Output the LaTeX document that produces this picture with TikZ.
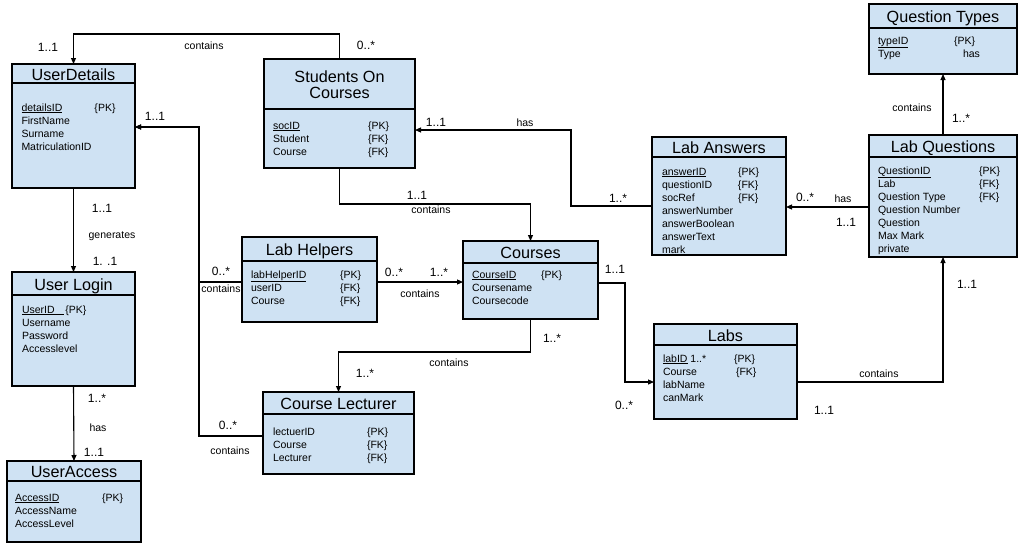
\documentclass[tikz,border=0pt]{standalone}
\usepackage{fontspec}
\setmainfont{Liberation Sans}
\usepackage{tikz}
\usetikzlibrary{arrows.meta,positioning}
\definecolor{erblue}{HTML}{CFE2F3}

\begin{document}
\begin{tikzpicture}[
  x=1pt, y=-1pt,
  etitle/.style={draw, fill=erblue, line width=1.1pt, inner sep=0.5pt, outer sep=0pt, anchor=north west,
    font=\fontsize{16.2}{16}\selectfont, align=center, text height=14.5pt, text depth=1.3pt},
  ebody/.style={draw, fill=erblue, line width=1.1pt, inner sep=0pt, outer sep=0pt, below=0pt of #1},
  attrs/.style={inner sep=0pt, outer sep=0pt, font=\fontsize{10.5}{13}\selectfont},
  rel/.style={-{Triangle[length=6pt, width=5pt]}, line width=1.1pt},
  mult/.style={font=\fontsize{12}{14}\selectfont},
  clabel/.style={font=\fontsize{10.5}{12}\selectfont}
]
  \useasboundingbox (0,0) rectangle (1020,547);

  % UserDetails
  \node[etitle, minimum width=123pt, minimum height=19pt] (ud) at (12,64) {UserDetails};
  \node[ebody=ud, minimum width=123pt, minimum height=105pt] (udb) {};
  \node[attrs, below right=19pt and 9.5pt of ud.south west] (uda) {\begin{tabular}{@{}p{73pt}@{}l@{}}
    \underline{detailsID} & \{PK\}\\ FirstName & \\ Surname & \\ MatriculationID & \end{tabular}};

  % Students On Courses
  \node[etitle, minimum width=151pt, minimum height=50pt, text height=30pt] (soc) at (264,59) {Students On\\Courses};
  \node[ebody=soc, minimum width=151pt, minimum height=59pt] (socb) {};
  \node[attrs, below right=11pt and 9pt of soc.south west] (soca) {\begin{tabular}{@{}p{95pt}@{}l@{}}
    \underline{socID} & \{PK\}\\ Student & \{FK\}\\ Course & \{FK\} \end{tabular}};

  % Lab Answers
  \node[etitle, minimum width=134pt, minimum height=20pt] (la) at (652,137) {Lab Answers};
  \node[ebody=la, minimum width=134pt, minimum height=98pt] (lab) {};
  \node[attrs, below right=9pt and 10pt of la.south west] (laa) {\begin{tabular}{@{}p{76pt}@{}l@{}}
    \underline{answerID} & \{PK\}\\ questionID & \{FK\}\\ socRef & \{FK\}\\ answerNumber & \\
    answerBoolean & \\ answerText & \\ mark & \end{tabular}};

  % Question Types
  \node[etitle, minimum width=148pt, minimum height=24pt] (qt) at (869,4) {Question Types};
  \node[ebody=qt, minimum width=148pt, minimum height=46pt] (qtb) {};
  \node[attrs, below right=7pt and 9pt of qt.south west] (qta) {\begin{tabular}{@{}p{76pt}@{}l@{}}
    \underline{typeID} & \{PK\}\\ Type & \hspace{9pt}has \end{tabular}};

  % Lab Questions
  \node[etitle, minimum width=148pt, minimum height=22pt] (lq) at (869,135) {Lab Questions};
  \node[ebody=lq, minimum width=148pt, minimum height=100pt] (lqb) {};
  \node[attrs, below right=8pt and 9pt of lq.south west] (lqa) {\begin{tabular}{@{}p{101pt}@{}l@{}}
    \underline{QuestionID} & \{PK\}\\ Lab & \{FK\}\\ Question Type & \{FK\}\\ Question Number & \\
    Question & \\ Max Mark & \\ private & \end{tabular}};

  % User Login
  \node[etitle, minimum width=123pt, minimum height=23pt] (ul) at (12,272) {User Login};
  \node[ebody=ul, minimum width=123pt, minimum height=91pt] (ulb) {};
  \node[attrs, below right=9pt and 10pt of ul.south west] (ula) {\begin{tabular}{@{}l@{}}
    \underline{UserID\hspace{9pt}}\,\{PK\}\\ Username\\ Password\\ Accesslevel \end{tabular}};

  % Lab Helpers
  \node[etitle, minimum width=135pt, minimum height=24pt] (lh) at (242,237) {Lab Helpers};
  \node[ebody=lh, minimum width=135pt, minimum height=61pt] (lhb) {};
  \node[attrs, below right=8pt and 9pt of lh.south west] (lha) {\begin{tabular}{@{}p{89pt}@{}l@{}}
    \underline{labHelperID} & \{PK\}\\ userID & \{FK\}\\ Course & \{FK\} \end{tabular}};

  % Courses
  \node[etitle, minimum width=135pt, minimum height=22pt] (co) at (463,241) {Courses};
  \node[ebody=co, minimum width=135pt, minimum height=56pt] (cob) {};
  \node[attrs, below right=6pt and 9pt of co.south west] (coa) {\begin{tabular}{@{}p{69pt}@{}l@{}}
    \underline{CourseID} & \{PK\}\\ Coursename & \\ Coursecode & \end{tabular}};

  % Labs
  \node[etitle, minimum width=143pt, minimum height=21pt] (lb) at (654,324) {Labs};
  \node[ebody=lb, minimum width=143pt, minimum height=74pt] (lbb) {};
  \node[attrs, below right=8pt and 9pt of lb.south west] (lba) {\begin{tabular}{@{}p{71pt}@{}l@{}}
    \underline{labID} 1..* & \{PK\}\\ Course & \hspace{2pt}\{FK\}\\ labName & \\ canMark & \end{tabular}};

  % Course Lecturer
  \node[etitle, minimum width=151pt, minimum height=22pt] (cl) at (263,392) {Course Lecturer};
  \node[ebody=cl, minimum width=151pt, minimum height=60pt] (clb) {};
  \node[attrs, below right=12pt and 10pt of cl.south west] (cla) {\begin{tabular}{@{}p{94pt}@{}l@{}}
    lectuerID & \{PK\}\\ Course & \{FK\}\\ Lecturer & \{FK\} \end{tabular}};

  % UserAccess
  \node[etitle, minimum width=134pt, minimum height=20pt] (ua) at (7,461) {UserAccess};
  \node[ebody=ua, minimum width=134pt, minimum height=61pt] (uab) {};
  \node[attrs, below right=11pt and 8pt of ua.south west] (uaa) {\begin{tabular}{@{}p{87pt}@{}l@{}}
    \underline{AccessID} & \{PK\}\\ AccessName & \\ AccessLevel & \end{tabular}};

  % Relationships
  \draw[rel] (soc.north) -- ++(0,-25) -| (ud.north);
  \draw[rel] (udb.south) -- (ul.north);
  \draw[rel] ([yshift=9.5pt]lhb.west) -- ++(-43,0) |- ([yshift=8.5pt]udb.east);
  \draw[rel] ([yshift=8pt]clb.west) -- ++(-64,0) |- ([yshift=8.5pt]udb.east);
  \draw[rel] ([yshift=9.5pt]lhb.east) -- ([yshift=9.5pt]lhb.east -| cob.west);
  \draw[rel] (socb.south) -- ++(0,36) -| (co.north);
  \draw[rel] (lab.west) -- ++(-81,0) |- ([yshift=8.5pt]socb.east);
  \draw[rel] (lqb.west) -- (lqb.west -| lab.east);
  \draw[rel] (lq.north) -- (qtb.south);
  \draw[rel] ([yshift=8pt]cob.east) -- ++(27,0) |- (lbb.west);
  \draw[rel] (lbb.east) -| (lqb.south);
  \draw[rel] (cob.south) -- ++(0,33) -| (cl.north);
  \draw[rel] (ulb.south) -- (ua.north);

  % Multiplicities and labels
  \node[mult] (m1) at (48,47) {1..1};
  \node[clabel] (c1) at (204,46) {contains};
  \node[mult] (m2) at (366,45) {0..*};
  \node[mult] (m3) at (102,208) {1..1};
  \node[clabel] (c2) at (112,236) {generates};
  \node[mult] (m4) at (105,261) {1. .1};
  \node[mult] (m5) at (155,116) {1..1};
  \node[mult] (m6) at (221,271) {0..*};
  \node[clabel] (c3) at (221,289) {contains};
  \node[mult] (m7) at (394,272) {0..*};
  \node[mult] (m8) at (439,272) {1..*};
  \node[clabel] (c4) at (420,294) {contains};
  \node[mult] (m9) at (417,195) {1..1};
  \node[clabel] (c5) at (431,210) {contains};
  \node[mult] (m10) at (436,122) {1..1};
  \node[clabel] (c6) at (525,123) {has};
  \node[mult] (m11) at (618,198) {1..*};
  \node[mult] (m12) at (805,197) {0..*};
  \node[clabel] (c7) at (843,199) {has};
  \node[mult] (m13) at (846,222) {1..1};
  \node[clabel] (c8) at (912,108) {contains};
  \node[mult] (m14) at (961,118) {1..*};
  \node[mult] (m15) at (615,269) {1..1};
  \node[mult] (m16) at (624,405) {0..*};
  \node[clabel] (c9) at (879,374) {contains};
  \node[mult] (m17) at (824,410) {1..1};
  \node[mult] (m18) at (967,284) {1..1};
  \node[mult] (m19) at (552,338) {1..*};
  \node[clabel] (c10) at (449,363) {contains};
  \node[mult] (m20) at (365,373) {1..*};
  \node[mult] (m21) at (228,425) {0..*};
  \node[clabel] (c11) at (230,451) {contains};
  \node[mult] (m22) at (97,398) {1..*};
  \node[clabel] (c12) at (98,428) {has};
  \node[mult] (m23) at (94,452) {1..1};
\end{tikzpicture}
\end{document}
